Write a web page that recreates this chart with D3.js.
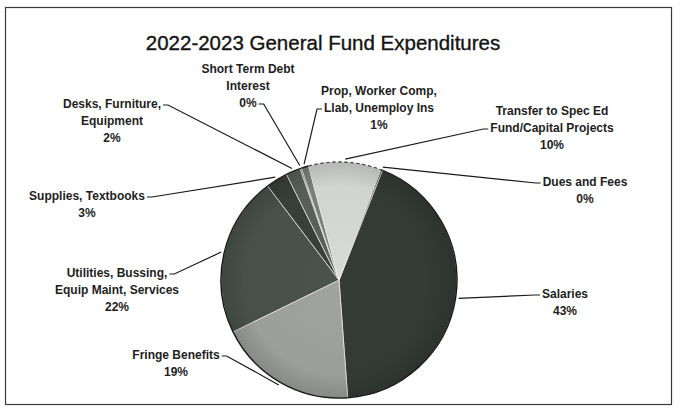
<!DOCTYPE html>
<html>
<head>
<meta charset="utf-8">
<script src="https://cdn.jsdelivr.net/npm/d3@7"></script>
<style>
  html, body { margin: 0; padding: 0; background: #ffffff; }
  svg { display: block; }
  .lbl { font-family: "Liberation Sans Narrow", "Arial Narrow", "Liberation Sans", sans-serif; font-weight: bold; font-size: 12px; fill: #1e1e1e; }
  .title { font-family: "Liberation Sans Narrow", "Arial Narrow", "Liberation Sans", sans-serif; font-size: 20.5px; fill: #141414; stroke: #141414; stroke-width: 0.35px; }
</style>
</head>
<body>
<svg id="chart" width="682" height="409"></svg>
<script>
// Expenditure categories in clockwise order, with their share of the fund (%)
const categories = [
  "Salaries",
  "Fringe Benefits",
  "Utilities, Bussing, Equip Maint, Services",
  "Supplies, Textbooks",
  "Desks, Furniture, Equipment",
  "Short Term Debt Interest",
  "Prop, Worker Comp, Llab, Unemploy Ins",
  "Transfer to Spec Ed Fund/Capital Projects",
  "Dues and Fees"
];
const shares = [43, 19, 22, 3, 2, 0.2, 1, 10, 0.2];

// How each data label is broken into lines
const labelLines = [
  ["Salaries"],
  ["Fringe Benefits"],
  ["Utilities, Bussing,", "Equip Maint, Services"],
  ["Supplies, Textbooks"],
  ["Desks, Furniture,", "Equipment"],
  ["Short Term Debt", "Interest"],
  ["Prop, Worker Comp,", "Llab, Unemploy Ins"],
  ["Transfer to Spec Ed", "Fund/Capital Projects"],
  ["Dues and Fees"]
];

const sliceColors = ["#353c37", "#a0a39f", "#4b524c", "#3a403b", "#5a605a", "#6e736d", "#7d827c", "#d8dad8", "#2f3531"];

// Label placement: centre x, first baseline, which line the leader meets, and on which side
const labelLayout = [
  { x: 565, y: 298, line: 0, side: "left" },
  { x: 176, y: 359, line: 0, side: "right" },
  { x: 117, y: 277, line: 0, side: "right" },
  { x: 87,  y: 200, line: 0, side: "right" },
  { x: 112, y: 108, line: 0, side: "right" },
  { x: 248, y: 73,  line: 2, side: "right" },
  { x: 379, y: 95,  line: 1, side: "left" },
  { x: 552, y: 115, line: 1, side: "left" },
  { x: 585, y: 186, line: 0, side: "left" }
];

const width = 682, height = 409;
const cx = 339, cy = 280, radius = 118;
const lineGap = 17;
const startDeg = 21.6;

const svg = d3.select("#chart");

// Outer frame
svg.append("rect")
  .attr("x", 5.5).attr("y", 7.5)
  .attr("width", 666).attr("height", 397)
  .attr("fill", "#ffffff")
  .attr("stroke", "#3a3a3a")
  .attr("stroke-width", 1.2);

svg.append("text")
  .attr("class", "title")
  .attr("x", 323).attr("y", 50)
  .attr("text-anchor", "middle")
  .text("2022-2023 General Fund Expenditures");

const pie = d3.pie()
  .sort(null)
  .value(d => d)
  .startAngle(startDeg * Math.PI / 180)
  .endAngle(startDeg * Math.PI / 180 + 2 * Math.PI);

const arcs = pie(shares);
const arc = d3.arc().innerRadius(0).outerRadius(radius);
const rim = d3.arc().innerRadius(radius).outerRadius(radius);
const edgeArc = d3.arc().innerRadius(radius + 3).outerRadius(radius + 3);

const defs = svg.append("defs");
const shade = defs.append("radialGradient")
  .attr("id", "shade")
  .attr("gradientUnits", "userSpaceOnUse")
  .attr("cx", 0).attr("cy", 0).attr("r", radius);
shade.append("stop").attr("offset", "0%").attr("stop-color", "#000").attr("stop-opacity", 0);
shade.append("stop").attr("offset", "80%").attr("stop-color", "#000").attr("stop-opacity", 0.03);
shade.append("stop").attr("offset", "100%").attr("stop-color", "#000").attr("stop-opacity", 0.16);

const g = svg.append("g").attr("transform", `translate(${cx},${cy})`);

g.selectAll("path.slice")
  .data(arcs)
  .join("path")
  .attr("class", "slice")
  .attr("d", arc)
  .attr("fill", (d, i) => sliceColors[i])
  .attr("stroke", "#e8eae8")
  .attr("stroke-width", 0.8)
  .attr("stroke-linejoin", "round");

g.append("circle")
  .attr("r", radius)
  .attr("fill", "url(#shade)");

// Rim of each slice; the pale transfer slice has a broken, lighter edge
g.selectAll("path.rim")
  .data(arcs)
  .join("path")
  .attr("class", "rim")
  .attr("d", rim)
  .attr("fill", "none")
  .attr("stroke", (d, i) => i === 7 ? "#444" : "#1a1a1a")
  .attr("stroke-width", (d, i) => i === 7 ? 1 : 1.4)
  .attr("stroke-dasharray", (d, i) => i === 7 ? "3,3" : null);

// Labels with their leader lines
const labels = svg.append("g");
const leaders = svg.append("g");

arcs.forEach((d, i) => {
  const lay = labelLayout[i];
  const lines = labelLines[i].concat([Math.round(shares[i]) + "%"]);
  const t = labels.append("text")
    .attr("class", "lbl")
    .attr("text-anchor", "middle");
  const spans = lines.map((s, k) =>
    t.append("tspan")
      .attr("x", lay.x)
      .attr("y", lay.y + k * lineGap)
      .text(s)
  );
  const w = spans[lay.line].node().getComputedTextLength();
  const ay = lay.y + lay.line * lineGap - 3;
  const ax = lay.side === "left" ? lay.x - w / 2 - 2 : lay.x + w / 2 + 2;
  const bx = lay.side === "left" ? ax - 5 : ax + 5;
  const [px, py] = edgeArc.centroid(d);
  leaders.append("polyline")
    .attr("points", [[ax, ay], [bx, ay], [cx + px, cy + py]].map(p => p.join(",")).join(" "))
    .attr("fill", "none")
    .attr("stroke", "#1a1a1a")
    .attr("stroke-width", 1.2);
});
</script>
</body>
</html>
